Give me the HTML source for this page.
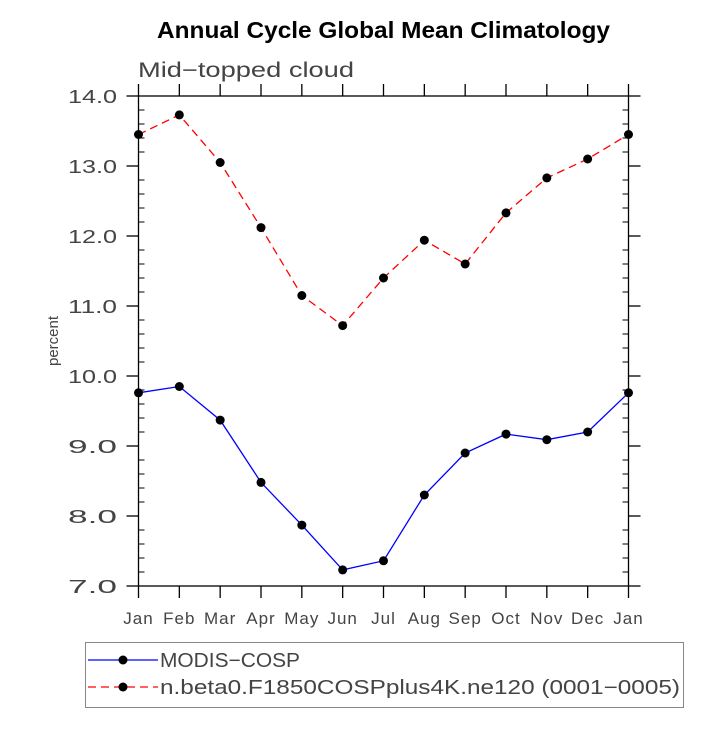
<!DOCTYPE html>
<html><head><meta charset="utf-8"><style>
body{margin:0;background:#fff;width:727px;height:728px;overflow:hidden}
text{font-family:"Liberation Sans",sans-serif}
</style></head><body>
<svg id="c" width="727" height="728">
<text x="157" y="38" textLength="453" lengthAdjust="spacingAndGlyphs" font-size="23" font-weight="bold">Annual Cycle Global Mean Climatology</text>
<text x="138" y="77" textLength="216" lengthAdjust="spacingAndGlyphs" font-size="21" fill="#444">Mid−topped cloud</text>
<text transform="translate(58,341) rotate(-90)" text-anchor="middle" font-size="15" fill="#444">percent</text>
<g id="ax"></g><g id="series"></g>
<g>
<rect x="85.5" y="642.5" width="598" height="65" fill="none" stroke="#888"/>
<g><line x1="88" y1="660" x2="158" y2="660" stroke="#00f" stroke-width="1.3"/><circle cx="123" cy="660" r="4.5"/><text x="160" y="667" textLength="140" lengthAdjust="spacingAndGlyphs" font-size="20" fill="#444">MODIS−COSP</text></g>
<g><line x1="88" y1="687" x2="158" y2="687" stroke="#f00" stroke-width="1.3" stroke-dasharray="8,5"/><circle cx="123" cy="687" r="4.5"/><text x="160" y="694" textLength="520" lengthAdjust="spacingAndGlyphs" font-size="20" fill="#444">n.beta0.F1850COSPplus4K.ne120 (0001−0005)</text></g>
</g>
</svg>
<script>
const months=["Jan","Feb","Mar","Apr","May","Jun","Jul","Aug","Sep","Oct","Nov","Dec","Jan"];
const modis=[9.76,9.85,9.37,8.48,7.87,7.23,7.36,8.30,8.90,9.17,9.09,9.20,9.76];
const model=[13.45,13.73,13.05,12.12,11.15,10.72,11.40,11.94,11.60,12.33,12.83,13.10,13.45];
const yTicks=[7,8,9,10,11,12,13,14];
const NS="http://www.w3.org/2000/svg";
const X0=138.5,X1=628.5,Y0=586,Y1=96,YMIN=7,YMAX=14;
const sx=i=>X0+(X1-X0)*i/(months.length-1);
const sy=v=>Y0-(v-YMIN)/(YMAX-YMIN)*(Y0-Y1);
function mk(t,a,p){const e=document.createElementNS(NS,t);for(const k in a)e.setAttribute(k,a[k]);p.appendChild(e);return e;}
const ax=document.getElementById('ax');
const frame=mk('rect',{x:X0,y:Y1,width:X1-X0,height:Y0-Y1,fill:'none',stroke:'#000','stroke-width':1.3},ax);


months.forEach((m,i)=>{const x=sx(i);
mk('line',{x1:x,y1:Y0,x2:x,y2:Y0+12,stroke:'#000','stroke-width':1.3},ax);
mk('line',{x1:x,y1:Y1,x2:x,y2:Y1-12,stroke:'#000','stroke-width':1.3},ax);
const t=mk('text',{x:x,y:624,'text-anchor':'middle','font-size':17,fill:'#444','letter-spacing':'1'},ax);t.textContent=m;

});
for(let v=YMIN;v<=YMAX+1e-9;v+=0.2){const y=sy(v);const major=Math.abs(v-Math.round(v))<1e-6;
if(major){mk('line',{x1:X0-12,y1:y,x2:X0,y2:y,stroke:'#000','stroke-width':1.3},ax);mk('line',{x1:X1,y1:y,x2:X1+12,y2:y,stroke:'#000','stroke-width':1.3},ax);}
else{mk('line',{x1:X0,y1:y,x2:X0+6,y2:y,stroke:'#000'},ax);mk('line',{x1:X1-6,y1:y,x2:X1,y2:y,stroke:'#000'},ax);}}
yTicks.forEach(v=>{const t=mk('text',{x:68,y:sy(v)+7,textLength:49,lengthAdjust:'spacingAndGlyphs','font-size':18,fill:'#444'},ax);t.textContent=v.toFixed(1);

});
const sg=document.getElementById('series');
function draw(vals,color,dash,name){
const pl=mk('polyline',{points:vals.map((v,i)=>sx(i)+','+sy(v)).join(' '),fill:'none',stroke:color,'stroke-width':1.3,'stroke-dasharray':dash},sg);


vals.forEach((v,i)=>{const c=mk('circle',{cx:sx(i),cy:sy(v),r:4.5,fill:'#000'},sg);

});}
draw(model,'#f00','8,5','model');
draw(modis,'#00f','none','modis');
</script>
</body></html>
